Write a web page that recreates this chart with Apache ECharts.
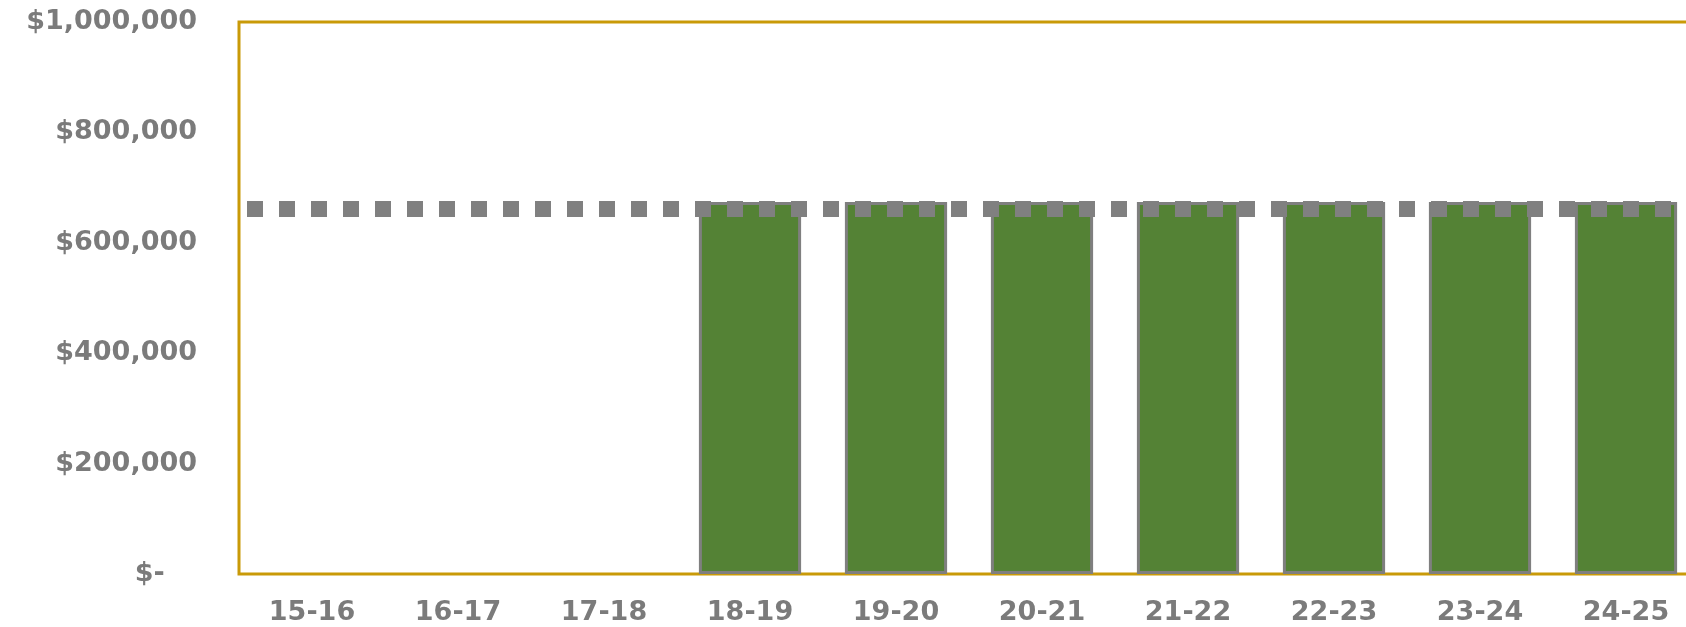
<!DOCTYPE html>
<html>
<head>
<meta charset="utf-8">
<script src="https://cdn.jsdelivr.net/npm/echarts@6/dist/echarts.min.js"></script>
<style>
html,body{margin:0;padding:0;background:#fff;overflow:hidden;width:1686px;height:627px;}
#chart{width:1704px;height:627px;}
</style>
</head>
<body>
<div id="chart"></div>
<script>
// Data
const categories = ['15-16','16-17','17-18','18-19','19-20','20-21','21-22','22-23','23-24','24-25'];
const barValues = [null, null, null, 674000, 674000, 674000, 674000, 674000, 674000, 674000];
const targetValue = 661000;
const yTicks = [0, 200000, 400000, 600000, 800000, 1000000];

function fmtMoney(v) {
  if (v === 0) return '$-\u2007\u2002';
  return '$' + v.toLocaleString('en-US');
}

const chart = echarts.init(document.getElementById('chart'), null, {renderer: 'canvas'});
const labelFont = {
  color: '#7b7b7b',
  fontFamily: 'DejaVu Sans',
  fontWeight: 'bold',
  fontSize: 27
};
chart.setOption({
  animation: false,
  backgroundColor: '#ffffff',
  grid: {
    left: 239, top: 22, width: 1460, height: 552,
    show: true, borderColor: '#C99A08', borderWidth: 3, backgroundColor: 'transparent'
  },
  xAxis: {
    type: 'category',
    data: categories,
    axisLine: {show: false},
    axisTick: {show: false},
    axisLabel: Object.assign({margin: 25}, labelFont)
  },
  yAxis: {
    type: 'value',
    min: yTicks[0],
    max: yTicks[yTicks.length - 1],
    interval: yTicks[1] - yTicks[0],
    axisLine: {show: false},
    axisTick: {show: false},
    splitLine: {show: false},
    axisLabel: Object.assign({margin: 42, formatter: fmtMoney}, labelFont)
  },
  series: [{
    type: 'bar',
    data: barValues,
    barCategoryGap: '30%',
    itemStyle: {color: '#548235', borderColor: '#7f7f7f', borderWidth: 3},
    markLine: {
      silent: true,
      symbol: ['none', 'none'],
      label: {show: false},
      lineStyle: {color: '#808080', width: 16, type: [16, 16], dashOffset: 24, cap: 'butt'},
      data: [{yAxis: targetValue}]
    }
  }]
});
</script>
</body>
</html>
